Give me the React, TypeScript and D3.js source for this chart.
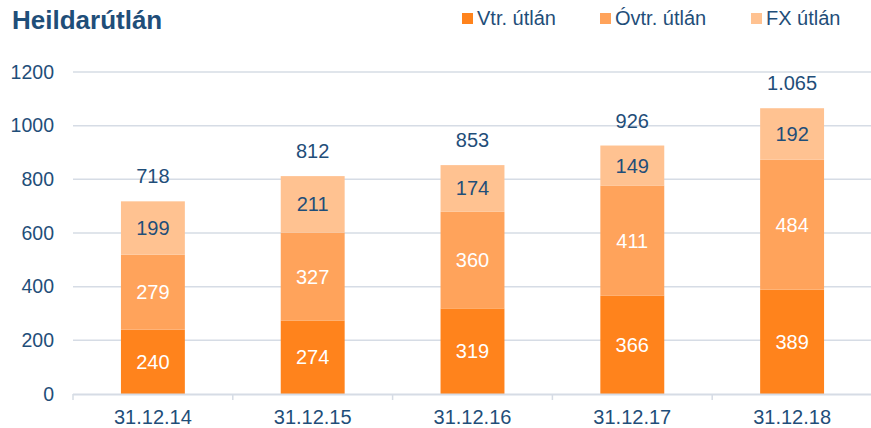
import React from "react";
import * as d3 from "d3";

const categories = ["31.12.14", "31.12.15", "31.12.16", "31.12.17", "31.12.18"];
const vtr = [240, 274, 319, 366, 389];
const ovtr = [279, 327, 360, 411, 484];
const fx = [199, 211, 174, 149, 192];
const totals = ["718", "812", "853", "926", "1.065"];
const seriesNames = ["Vtr. útlán", "Óvtr. útlán", "FX útlán"];
const yTicks = [0, 200, 400, 600, 800, 1000, 1200];

const colors = ["#FF831C", "#FFA35B", "#FFC291"];
const textDark = "#1F4E79";
const gridColor = "#D6DCE5";
const font = "Arial, 'Liberation Sans', sans-serif";

export default function App() {
  const W = 871, H = 428;
  const x0 = 73, x1 = 872;
  const yScale = d3.scaleLinear().domain([0, 1200]).range([394, 72]);
  const band = d3.scaleBand().domain(categories).range([x0, x1]).paddingInner(0.6).paddingOuter(0.3);
  const outer = d3.scaleBand().domain(categories).range([x0, x1]);

  const rows = categories.map((c, i) => ({ cat: c, vtr: vtr[i], ovtr: ovtr[i], fx: fx[i] }));
  const stack = d3.stack<any>().keys(["vtr", "ovtr", "fx"])(rows);

  const legendX = [462, 600, 751];

  return (
    <svg width={W} height={H} style={{ position: "absolute", left: 0, top: 0, background: "#fff" }} fontFamily={font}>
      <text x={12} y={29} fontSize={26} fontWeight="bold" fill={textDark}>Heildarútlán</text>
      {seriesNames.map((n, i) => (
        <g key={n}>
          <rect x={legendX[i]} y={13} width={11} height={11} fill={colors[i]} />
          <text x={legendX[i] + 15} y={25} fontSize={20} fill={textDark}>{n}</text>
        </g>
      ))}
      {yTicks.map((t) => (
        <g key={t}>
          {t > 0 && <line x1={x0} x2={W} y1={yScale(t)} y2={yScale(t)} stroke={gridColor} strokeWidth={1.5} />}
          <text x={54} y={yScale(t)} dy="0.35em" textAnchor="end" fontSize={19.5} fill={textDark}>{t}</text>
        </g>
      ))}
      {stack.map((s, si) =>
        s.map((d, i) => {
          const top = yScale(d[1]);
          const bot = yScale(d[0]);
          const xb = band(categories[i])!;
          return (
            <g key={si + "-" + i}>
              <rect x={xb} y={top} width={band.bandwidth()} height={bot - top} fill={colors[si]} />
              <text x={xb + band.bandwidth() / 2} y={(top + bot) / 2} dy="0.35em" textAnchor="middle" fontSize={20}
                fill={si === 2 ? textDark : "#fff"}>{d[1] - d[0]}</text>
            </g>
          );
        })
      )}
      {categories.map((c, i) => {
        const cx = band(c)! + band.bandwidth() / 2;
        const total = vtr[i] + ovtr[i] + fx[i];
        return (
          <g key={c}>
            <text x={cx} y={yScale(total) - 18} textAnchor="middle" fontSize={20} fill={textDark}>{totals[i]}</text>
            <text x={cx} y={424} textAnchor="middle" fontSize={20} fill={textDark}>{c}</text>
          </g>
        );
      })}
      <line x1={x0} x2={W} y1={394.5} y2={394.5} stroke={gridColor} strokeWidth={2} />
      {categories.map((c, i) => (
        <line key={"t" + i} x1={outer(c)!} x2={outer(c)!} y1={394} y2={400} stroke={gridColor} strokeWidth={1.5} />
      ))}
    </svg>
  );
}
